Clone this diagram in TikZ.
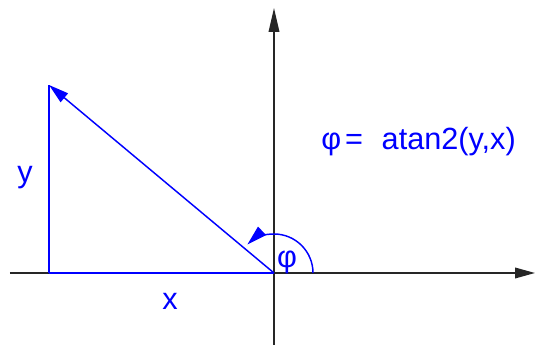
\documentclass[tikz,border=0pt]{standalone}
\usepackage{fontspec}
\setsansfont{Liberation Sans}
\usepackage{tikz}
\usetikzlibrary{
  arrows.meta,
  positioning
}
\tikzset{
  kaal/.style={ font=\sffamily },
  axis/.style={
    line width=1.1pt,
    draw=black!85
  },
  vecline/.style={
    line width=1.1pt,
    draw=blue
  },
  vecarrow/.style={
    -{Triangle[length=15pt,width=8.5pt]},
    line width=1.1pt,
    draw=blue
  },
  lbl/.style={
    font=\sffamily\fontsize{23}{27}\selectfont,
    text=blue,
    inner sep=0pt
  }
}
\begin{document}
\begin{tikzpicture}[kaal, x=0.75pt, y=0.75pt]
  \useasboundingbox (-274,-75) rectangle (264,273);
  % axes
  \coordinate (O) at (0,0);
  \coordinate (xmin) at (-264,0);
  \coordinate (xmax) at (261,0);
  \coordinate (ymin) at (0,-72);
  \coordinate (ymax) at (0,265);
  \draw[axis, -{Triangle[length=15pt,width=8pt]}] (xmin) -- (xmax);
  \draw[axis, -{Triangle[length=18pt,width=8pt]}] (ymin) -- (ymax);
  % triangle
  \coordinate (P) at (-225,188);
  \coordinate (F) at (-225,0);
  \draw[vecline] (F) -- (P);
  \draw[vecline, line width=2.2pt] (F) -- (O);
  \draw[vecarrow] (O) -- (P);
  % angle
  \draw[vecarrow] (39,0) arc[start angle=0, end angle=133, radius=39];
  \node[lbl] (phi) at (13,11) {φ};
  \node[lbl] (ylbl) at (-249,95) {y};
  \node[lbl] (xlbl) at (-104,-28) {x};
  \node[lbl, anchor=west] (formula) at (47,131) {φ\kern3pt=\kern14pt atan2(y,x)};
\end{tikzpicture}
\end{document}
